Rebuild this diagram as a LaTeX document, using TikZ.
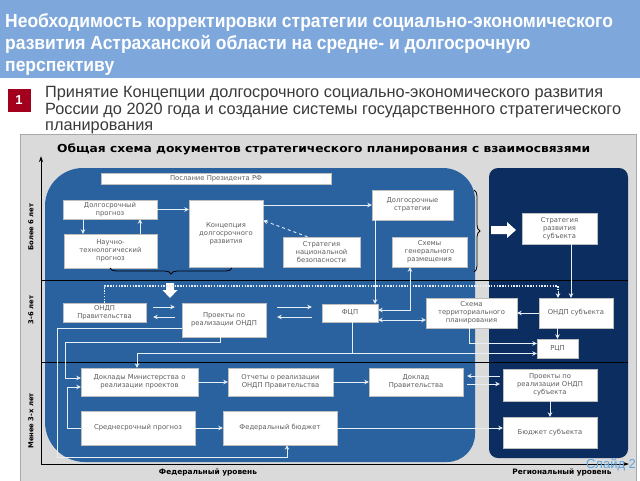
\documentclass[tikz,border=0pt]{standalone}
\usepackage{graphicx}
\usepackage{fontspec}
\setmainfont{Liberation Sans}
\newfontfamily\verd{DejaVu Sans}
\usetikzlibrary{arrows.meta,decorations.pathreplacing,calc}
\definecolor{banner}{HTML}{7EA7DC}
\definecolor{redsq}{HTML}{A3001E}
\definecolor{framebg}{HTML}{DADADA}
\definecolor{framebd}{HTML}{A8A8A8}
\definecolor{fed}{HTML}{2A62A0}
\definecolor{reg}{HTML}{0B2D60}
\definecolor{ln}{HTML}{E6EEF6}
\definecolor{boxtxt}{HTML}{5E5E5E}
\definecolor{subtxt}{HTML}{3A3A3A}
\definecolor{slide}{HTML}{5EA3DE}
\newcommand\boxfont{\verd\fontsize{6.8}{8}\selectfont}
\begin{document}
\begin{tikzpicture}[x=1pt,y=-1pt,
  box/.style={draw=black!25, line width=0.4pt, fill=white, inner sep=1pt, align=center, font=\boxfont, text=boxtxt},
  arr/.style={draw=ln, line width=0.9pt, -{Stealth[length=4.5pt,width=4.5pt]}},
  darr/.style={draw=ln, line width=0.9pt, {Stealth[length=4.5pt,width=4.5pt]}-{Stealth[length=4.5pt,width=4.5pt]}},
  dashl/.style={draw=ln, line width=0.9pt, dashed, -{Stealth[length=4.5pt,width=4.5pt]}},
  dotl/.style={draw=ln, line width=1.2pt, dash pattern=on 1.4pt off 1.4pt},
  divl/.style={draw=black, line width=0.9pt},
  axl/.style={font=\verd\bfseries\fontsize{6.8}{8}\selectfont, text=black},
  brc/.style={draw=black, line width=0.8pt, decorate, decoration={brace, amplitude=6pt}},
  blk/.style={fill=white, draw=none},
  ttl/.style={anchor=base west, text=white, font=\bfseries\fontsize{19}{19}\selectfont, inner sep=0},
  sub/.style={anchor=base west, text=subtxt, font=\fontsize{16.3}{16}\selectfont, inner sep=0}
]
\useasboundingbox (0,0) rectangle (640,480);
\fill[white] (0,0) rectangle (640,480);
% banner
\fill[banner] (0,0) rectangle (640,78);
\node[ttl] (t1) at (5,27) {\scalebox{0.92}[1]{Необходимость корректировки стратегии социально-экономического}};
\node[ttl] (t2) at (5,49) {\scalebox{0.92}[1]{развития Астраханской области на средне- и долгосрочную}};
\node[ttl] (t3) at (5,71) {\scalebox{0.92}[1]{перспективу}};
% item 1
\node[fill=redsq, text=white, font=\bfseries\fontsize{13}{13}\selectfont, minimum width=23pt, minimum height=23pt, inner sep=0] (one) at (19,100) {1};
\node[sub] (s1) at (45,97) {Принятие Концепции долгосрочного социально-экономического развития};
\node[sub] (s2) at (45,114) {России до 2020 года и создание системы государственного стратегического};
\node[sub] (s3) at (45,130.5) {планирования};
% frame
\filldraw[fill=framebg, draw=framebd, line width=0.8pt] (20,134.5) rectangle (636,481);
\node[anchor=base west, inner sep=0, font=\verd\bfseries\fontsize{11}{11}\selectfont] (sch) at (57,152) {\resizebox{533pt}{\height}{Общая схема документов стратегического планирования с взаимосвязями}};
% federal area
\fill[fed] (45,206) .. controls (45,185) and (62,168) .. (83,168) -- (443,168)
  .. controls (460.7,168) and (475,182.3) .. (475,200) -- (475,434)
  .. controls (475,449.5) and (462.5,462) .. (447,462) -- (85,462)
  .. controls (63,462) and (45,444) .. (45,422) -- cycle;
% regional area
\fill[reg, rounded corners=9pt] (489,168) rectangle (628,458);
% dividers and axes
\draw[divl] (41,280.5) -- (628,280.5);
\draw[divl] (41,362) -- (628,362);
\draw[draw=black, line width=1pt, -{Stealth[length=6pt,width=4pt]}] (41,464) -- (41,156);
\draw[draw=black, line width=1pt, -{Stealth[length=6pt,width=4pt]}] (41,464) -- (629,464);
\node[axl, rotate=90] (ax1) at (31,227) {Более 6 лет};
\node[axl, rotate=90] (ax2) at (31,310) {3-6 лет};
\node[axl, rotate=90] (ax3) at (31,421) {Менее 3-х лет};
\node[axl, font=\verd\bfseries\fontsize{7.4}{8}\selectfont] (fedl) at (208,472) {Федеральный уровень};
\node[axl, font=\verd\bfseries\fontsize{7.4}{8}\selectfont] (regl) at (562,472) {Региональный уровень};
% boxes
\node[box, minimum width=230pt, minimum height=11pt] (pres) at (216,178.5) {Послание Президента РФ};
\node[box, minimum width=94pt, minimum height=19pt] (dprog) at (110,209.5) {Долгосрочный\\прогноз};
\node[box, minimum width=93pt, minimum height=34pt] (ntp) at (110.5,251) {Научно-\\технологический\\прогноз};
\node[box, minimum width=74pt, minimum height=67pt] (konc) at (226,233.5) {Концепция\\долгосрочного\\развития};
\node[box, minimum width=77pt, minimum height=30pt] (snb) at (321.5,252) {Стратегия\\национальной\\безопасности};
\node[box, minimum width=75pt, minimum height=30pt] (sgr) at (429.5,252) {Схемы\\генерального\\размещения};
\node[box, minimum width=81pt, minimum height=30pt] (dstr) at (412.5,205) {Долгосрочные\\стратегии};
\node[box, minimum width=75pt, minimum height=31pt] (srs) at (559.5,228.5) {Стратегия\\развития\\субъекта};
\node[box, minimum width=83pt, minimum height=19pt] (ondp) at (104.5,312.5) {ОНДП\\Правительства};
\node[box, minimum width=84pt, minimum height=34pt] (proj) at (224,320) {Проекты по\\реализации ОНДП};
\node[box, minimum width=56pt, minimum height=18pt] (fcp) at (350,313) {ФЦП};
\node[box, minimum width=91pt, minimum height=30pt] (stp) at (471.5,313) {Схема\\территориального\\планирования};
\node[box, minimum width=74pt, minimum height=30pt] (ondps) at (576,313) {ОНДП субъекта};
\node[box, minimum width=41pt, minimum height=19pt] (rcp) at (557.5,348.5) {РЦП};
\node[box, minimum width=117pt, minimum height=28pt] (dokm) at (139.5,382) {Доклады Министерства о\\реализации проектов};
\node[box, minimum width=105pt, minimum height=28pt] (otch) at (280.5,382) {Отчеты о реализации\\ОНДП Правительства};
\node[box, minimum width=94pt, minimum height=28pt] (dokp) at (416,382) {Доклад\\Правительства};
\node[box, minimum width=94pt, minimum height=32pt] (projs) at (550,385) {Проекты по\\реализации ОНДП\\субъекта};
\node[box, minimum width=94pt, minimum height=31pt] (bjs) at (550,432.5) {Бюджет субъекта};
\node[box, minimum width=114pt, minimum height=34pt] (ssp) at (138,428) {Среднесрочный прогноз};
\node[box, minimum width=114pt, minimum height=34pt] (fb) at (280,428) {Федеральный бюджет};
% braces and block arrows
\draw[brc] (474,190) -- (474,272);
\draw[brc] (232,268) -- (110,268);
\fill[blk] (166,283) -- (174,283) -- (174,290) -- (177.5,290) -- (170,298) -- (162.5,290) -- (166,290) -- cycle;
\fill[blk] (491,226) -- (507,226) -- (507,222) -- (516,230) -- (507,238) -- (507,234) -- (491,234) -- cycle;
% helper coordinates
\coordinate (c8) at ([yshift=-7pt]fcp.east);
\coordinate (dl) at (105,286);
\coordinate (dr) at (558,286);
\coordinate (dra) at (558,291);
\coordinate (j1) at ([xshift=2pt]fcp.south);
\coordinate (j2) at ([yshift=-5pt]rcp.west);
\coordinate (p1) at (65,342);
\coordinate (p2) at (57,457);
\coordinate (p3) at (67,387);
\coordinate (q1) at ([xshift=7pt,yshift=5.5pt]ondp.east);
\coordinate (q2) at ([xshift=7pt,yshift=-4.5pt]ondp.east);
\coordinate (q1e) at ([xshift=-7pt]proj.west);
\coordinate (q3) at ([xshift=11pt,yshift=13pt]proj.east);
\coordinate (q4) at ([xshift=11pt,yshift=3pt]proj.east);
\coordinate (q3e) at ([xshift=-10pt]fcp.west);
\coordinate (q5) at ([xshift=4pt,yshift=6pt]dokp.east);
\coordinate (q6) at ([xshift=4pt,yshift=-2pt]dokp.east);
\coordinate (q5e) at ([xshift=-3pt]projs.west);
% connectors
\draw[arr] (dprog.east) -- (dprog.east -| konc.west);
\draw[arr] ([xshift=-27pt]dprog.south) -- ([xshift=-27pt]dprog.south |- ntp.north);
\draw[arr] ([xshift=29.5pt]ntp.north) -- ([xshift=29.5pt]ntp.north |- dprog.south);
\draw[arr] (konc.east |- dstr.west) -- (dstr.west);
\draw[dashl] ([xshift=-14pt]snb.north) -- ([yshift=13pt]konc.east);
\draw[arr] ([xshift=25pt]fcp.north |- dstr.south) -- ([xshift=25pt]fcp.north);
\draw[darr] ([yshift=3pt]fcp.east) -| ([xshift=-19.5pt]sgr.south);
\draw[darr] (c8) -- (c8 -| stp.west);
\draw[arr] ([xshift=11.5pt]srs.south) -- ([xshift=11.5pt]srs.south |- ondps.north);
\draw[dotl] (ondp.north) |- (dl -| dr) -- (dra);
\draw[arr] (dra) -- (dra |- ondps.north);
\draw[arr] (ondps.west) -- (stp.east);
\draw[arr] (rcp.north |- ondps.south) -- (rcp.north);
\draw[arr] ([xshift=-2.5pt]stp.south) |- ([yshift=5pt]rcp.west);
\draw[arr] (j1) |- (j2);
\draw[arr] (j1 |- j2) -| ([xshift=-2.5pt]dokm.north);
\draw[arr] ([xshift=-4pt]proj.south) |- (p1) |- ([yshift=4pt]dokm.west);
\draw[arr] ([yshift=-8pt]proj.west) -| (p2) -| ([xshift=7pt]fb.south);
\draw[arr] (ssp.west) -| (p3) -- (p3 -| dokm.west);
\draw[arr] (q1) -- (q1 -| q1e);
\draw[arr] (q2 -| q1e) -- (q2);
\draw[arr] (q3) -- (q3 -| q3e);
\draw[arr] (q4 -| q3e) -- (q4);
\draw[arr] (dokm.east) -- (otch.west);
\draw[arr] (otch.east) -- (dokp.west);
\draw[arr] (q5 -| q5e) -- (q5);
\draw[arr] (q6) -- (q6 -| q5e);
\draw[arr] (projs.south) -- (bjs.north);
\draw[arr] (ssp.east) -- (fb.west);
\draw[arr] (fb.east) -- (fb.east -| bjs.west);
% slide label
\node[text=slide, font=\fontsize{13}{13}\selectfont, inner sep=0] (sl) at (611,465) {Слайд 2};
\end{tikzpicture}
\end{document}
